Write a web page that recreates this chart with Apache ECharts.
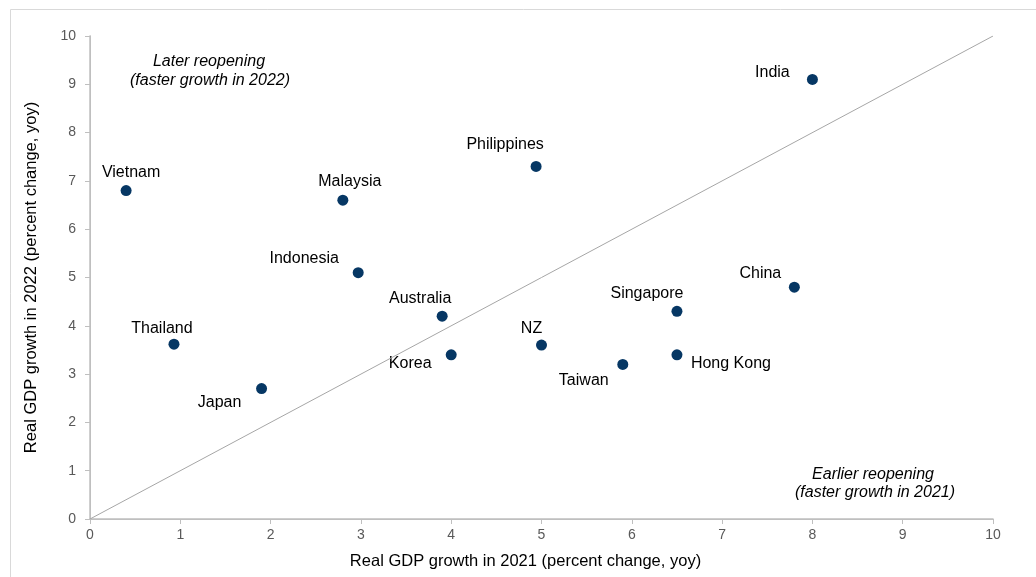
<!DOCTYPE html>
<html>
<head>
<meta charset="utf-8">
<script src="https://cdn.jsdelivr.net/npm/echarts@6/dist/echarts.min.js"></script>
<style>
  html, body { margin: 0; padding: 0; background: #fff; }
  #chart { width: 1036px; height: 577px; }
</style>
</head>
<body>
<div id="chart"></div>
<script>
const countries = ['India', 'Vietnam', 'Malaysia', 'Philippines', 'Indonesia', 'Australia', 'Thailand',
  'Japan', 'Korea', 'NZ', 'Taiwan', 'Singapore', 'Hong Kong', 'China']
const growth2021 = [8.0, 0.4, 2.8, 4.94, 2.97, 3.9, 0.93, 1.9, 4.0, 5.0, 5.9, 6.5, 6.5, 7.8]
const growth2022 = [9.1, 6.8, 6.6, 7.3, 5.1, 4.2, 3.62, 2.7, 3.4, 3.6, 3.2, 4.3, 3.4, 4.8]
const diagonal = [[0, 0], [10, 10]]

// where each country name sits, relative to its dot (px)
const labelOffsets = {
  'India': [-40, -7], 'Vietnam': [5, -18], 'Malaysia': [7, -19], 'Philippines': [-31, -22],
  'Indonesia': [-54, -14], 'Australia': [-22, -18], 'Thailand': [-12, -16], 'Japan': [-42, 14],
  'Korea': [-41, 9], 'NZ': [-10, -17], 'Taiwan': [-39, 16], 'Singapore': [-30, -18],
  'Hong Kong': [54, 9], 'China': [-34, -14]
}

const font = 'Liberation Sans, Arial, sans-serif'

const points = countries.map((name, i) => ({
  name: name,
  value: [growth2021[i], growth2022[i]],
  label: { offset: labelOffsets[name] }
}))

const chart = echarts.init(document.getElementById('chart'), null, { renderer: 'canvas' })

const note = (text, x, y) => ({
  type: 'text', x: x, y: y,
  style: { text: text, font: 'italic 16px ' + font, fill: '#000', textAlign: 'center', textVerticalAlign: 'middle' }
})

const axisCommon = {
  type: 'value',
  min: 0,
  max: 10,
  interval: 1,
  splitLine: { show: false },
  axisLine: { show: true, lineStyle: { color: '#bfbfbf', width: 1.5 } },
  axisTick: { show: true, length: 5, lineStyle: { color: '#bfbfbf' } },
  axisLabel: { color: '#595959', fontSize: 14, fontFamily: font }
}

chart.setOption({
  animation: false,
  grid: { left: 90, right: 43, top: 36, bottom: 58 },
  graphic: [
    { type: 'rect', shape: { x: 10.5, y: 9.5, width: 1100, height: 600 },
      style: { fill: 'none', stroke: '#d9d9d9', lineWidth: 1 }, z: -1 },
    note('Later reopening', 209, 62),
    note('(faster growth in 2022)', 210, 81),
    note('Earlier reopening', 873, 475),
    note('(faster growth in 2021)', 875, 493)
  ],
  xAxis: [
    Object.assign({}, axisCommon, {
      name: 'Real GDP growth in 2021 (percent change, yoy)',
      nameLocation: 'middle',
      nameGap: 34,
      nameTextStyle: { color: '#000', fontSize: 16.5, fontFamily: font, padding: [0, 32, 0, 0] },
      axisLabel: Object.assign({}, axisCommon.axisLabel, { margin: 9 })
    }),
    { type: 'value', position: 'top', min: 0, max: 10,
      axisLine: { show: true, lineStyle: { color: '#bfbfbf' } },
      axisTick: { show: false }, axisLabel: { show: false }, splitLine: { show: false } }
  ],
  yAxis: [
    Object.assign({}, axisCommon, {
      name: 'Real GDP growth in 2022 (percent change, yoy)',
      nameLocation: 'middle',
      nameGap: 50,
      nameTextStyle: { color: '#000', fontSize: 16.5, fontFamily: font },
      axisLabel: Object.assign({}, axisCommon.axisLabel, { margin: 14 })
    }),
    { type: 'value', position: 'right', min: 0, max: 10,
      axisLine: { show: true, lineStyle: { color: '#bfbfbf' } },
      axisTick: { show: false }, axisLabel: { show: false }, splitLine: { show: false } }
  ],
  series: [
    {
      type: 'line',
      data: diagonal,
      symbol: 'none',
      silent: true,
      lineStyle: { color: '#a6a6a6', width: 1 }
    },
    {
      type: 'scatter',
      data: points,
      symbolSize: 11,
      itemStyle: { color: '#063764', opacity: 1 },
      label: {
        show: true,
        position: 'inside',
        formatter: '{b}',
        color: '#000',
        opacity: 1,
        fontSize: 16,
        fontFamily: font
      }
    }
  ]
})
</script>
</body>
</html>
